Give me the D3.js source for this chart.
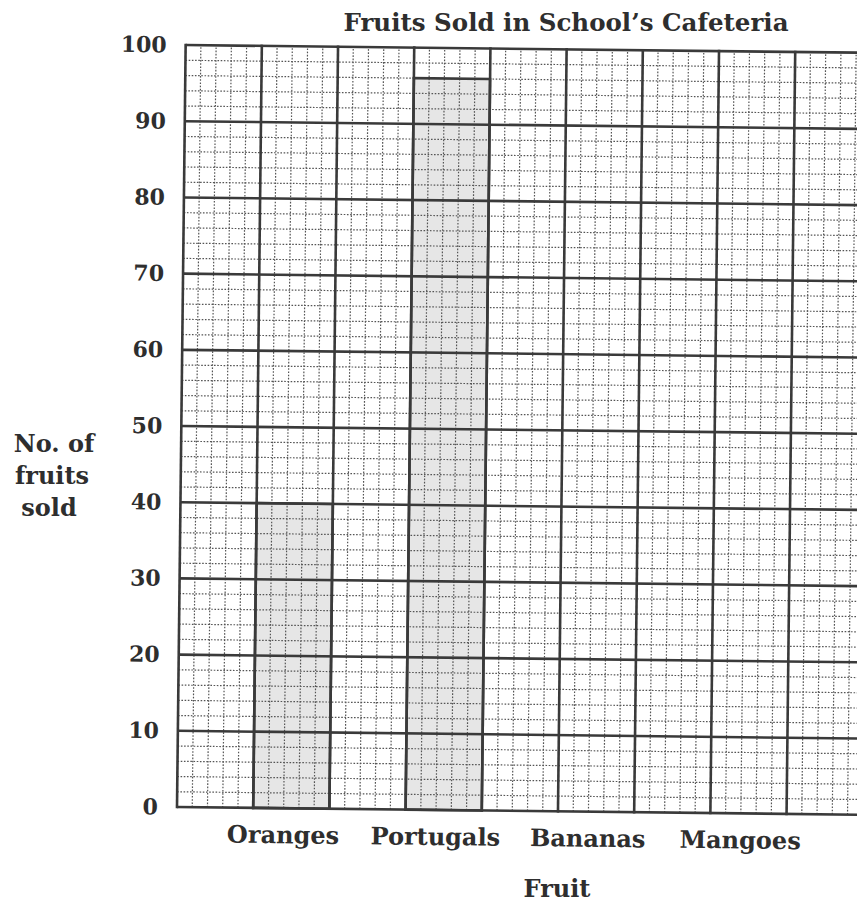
<!DOCTYPE html>
<html>
<head>
<meta charset="utf-8">
<script src="https://cdn.jsdelivr.net/npm/d3@7"></script>
<style>
  html, body { margin: 0; padding: 0; background: #fff; }
  svg { display: block; }
  text { font-family: "DejaVu Serif", serif; font-weight: bold; fill: #2e2e2e; }
</style>
</head>
<body>
<svg id="chart" width="857" height="903"></svg>
<script>
// ---- data ----
const categories = ["Oranges", "Portugals", "Bananas", "Mangoes"];
const values = [40, 96, 0, 0];
const yTicks = [0, 10, 20, 30, 40, 50, 60, 70, 80, 90, 100];
const chartTitle = "Fruits Sold in School\u2019s Cafeteria";
const yTitleLines = ["No. of", "fruits", "sold"];
const xTitle = "Fruit";

// ---- layout ----
const gridLeft = 177, gridBottom = 807, gridTop = 45;
const cell = (gridBottom - gridTop) / 10;  // one major cell
const nCols = 10;                           // grid continues past right edge
const tilt = 0.65;                          // scanned page tilt (deg)

const svg = d3.select("#chart");

const y = d3.scaleLinear().domain([0, 100]).range([gridBottom, gridTop]);
const col = d3.scaleLinear().domain([0, nCols]).range([gridLeft, gridLeft + nCols * cell]);
// each bar fills one grid column, every other column starting at the 2nd
const x = d3.scaleBand().domain(categories)
  .range([gridLeft + cell, gridLeft + 8 * cell])
  .paddingInner(0.5).paddingOuter(0);

const g = svg.append("g").attr("transform", `rotate(${tilt},${gridLeft},${gridBottom})`);
const barData = categories.map((c, i) => ({ c, v: values[i] })).filter(d => d.v > 0);

// bars (under grid)
g.selectAll("rect.bar").data(barData)
  .join("rect").attr("class", "bar")
  .attr("x", d => x(d.c)).attr("width", x.bandwidth())
  .attr("y", d => y(d.v)).attr("height", d => y(0) - y(d.v))
  .attr("fill", "#e6e6e6");

// minor grid (dotted)
const minorY = d3.range(0, 100.001, 2).filter(v => v % 10 !== 0);
const minorX = d3.range(0, nCols + 0.001, 0.2).filter(v => Math.abs(v - Math.round(v)) > 0.01);
g.append("g").selectAll("line").data(minorY).join("line")
  .attr("x1", col(0)).attr("x2", col(nCols))
  .attr("y1", d => y(d)).attr("y2", d => y(d))
  .attr("stroke", "#555").attr("stroke-width", 1.2).attr("stroke-dasharray", "1.6,1.6");
g.append("g").selectAll("line").data(minorX).join("line")
  .attr("x1", d => col(d)).attr("x2", d => col(d))
  .attr("y1", y(0)).attr("y2", y(100))
  .attr("stroke", "#555").attr("stroke-width", 1.2).attr("stroke-dasharray", "1.6,1.6");

// major grid
g.append("g").selectAll("line").data(yTicks).join("line")
  .attr("x1", col(0)).attr("x2", col(nCols))
  .attr("y1", d => y(d)).attr("y2", d => y(d))
  .attr("stroke", "#3a3a3a").attr("stroke-width", 2.6);
g.append("g").selectAll("line").data(d3.range(0, nCols + 1)).join("line")
  .attr("x1", d => col(d)).attr("x2", d => col(d))
  .attr("y1", y(0) + 1.3).attr("y2", y(100) - 1.3)
  .attr("stroke", "#3a3a3a").attr("stroke-width", 2.6);

// bar outlines
g.selectAll("rect.outline").data(barData)
  .join("rect").attr("class", "outline")
  .attr("x", d => x(d.c)).attr("width", x.bandwidth())
  .attr("y", d => y(d.v)).attr("height", d => y(0) - y(d.v))
  .attr("fill", "none").attr("stroke", "#3a3a3a").attr("stroke-width", 2.6);

// y axis tick labels
const yAxis = g.append("g").attr("transform", `translate(${gridLeft},0)`)
  .call(d3.axisLeft(y).tickValues(yTicks).tickSize(0).tickPadding(19));
yAxis.select(".domain").remove();
yAxis.selectAll("text").style("font-size", "22px").attr("fill", "#2e2e2e")
  .style("font-family", "DejaVu Serif").style("font-weight", "bold");

// x axis category labels
const xAxis = g.append("g").attr("transform", `translate(-8,${gridBottom})`)
  .call(d3.axisBottom(x).tickSize(0).tickPadding(18));
xAxis.select(".domain").remove();
xAxis.selectAll("text").style("font-size", "24px").attr("fill", "#2e2e2e")
  .style("font-family", "DejaVu Serif").style("font-weight", "bold");

// titles
svg.append("text").attr("x", 566).attr("y", 31).attr("text-anchor", "middle")
  .style("font-size", "24.5px").text(chartTitle);

svg.append("text").attr("x", 557).attr("y", 897).attr("text-anchor", "middle")
  .style("font-size", "24px").text(xTitle);

svg.append("text").attr("text-anchor", "middle").style("font-size", "24px")
  .selectAll("tspan").data(yTitleLines).join("tspan")
  .attr("x", (d, i) => [54, 52, 49][i]).attr("y", (d, i) => 452 + i * 32)
  .text(d => d);
</script>
</body>
</html>
